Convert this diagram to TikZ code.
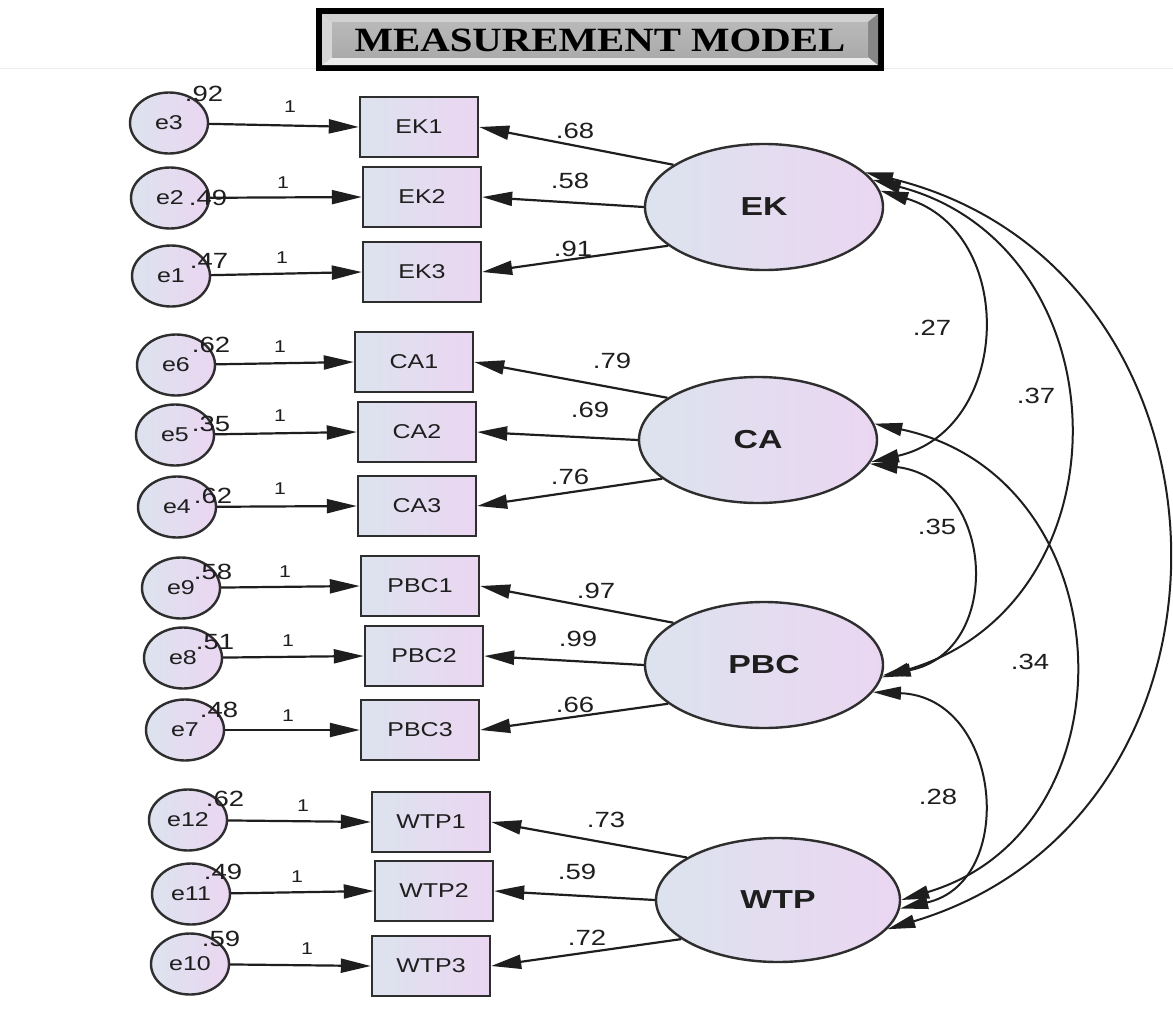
\documentclass[tikz,border=0pt]{standalone}
\usepackage{fontspec}
\setmainfont{Liberation Sans}
\newfontfamily\diagfont[FakeStretch=1.25]{Liberation Sans}
\newfontfamily\latfont[FakeStretch=1.3]{Liberation Sans}
\newfontfamily\headfont[FakeStretch=1.2]{Liberation Serif}
\usetikzlibrary{arrows.meta,shapes.geometric}

\definecolor{ink}{HTML}{1E1E1E}
\definecolor{edgegray}{HTML}{2E2E2E}
\definecolor{fillL}{HTML}{DCE3EE}
\definecolor{fillR}{HTML}{EBD6F1}

\tikzset{
  shaded/.style={draw=edgegray, line width=2.4pt, left color=fillL, right color=fillR, text=ink, inner sep=0pt},
  obs/.style={shaded, rectangle, minimum width=118pt, minimum height=60pt,
    font=\diagfont\fontsize{20}{20}\selectfont},
  err/.style={shaded, ellipse, minimum width=78pt, minimum height=61pt,
    font=\diagfont\fontsize{20}{20}\selectfont},
  lat/.style={shaded, ellipse, minimum width=238pt, minimum height=126pt,
    font=\latfont\bfseries\fontsize{26}{26}\selectfont},
  regpath/.style={draw=ink, line width=2.2pt, -{Triangle[length=30pt,width=14pt]}},
  covpath/.style={draw=ink, line width=2pt,
    {Triangle[length=28pt,width=13pt]}-{Triangle[length=28pt,width=13pt]}},
  coef/.style={font=\diagfont\fontsize{22}{22}\selectfont, text=ink, inner sep=0pt},
  unit/.style={font=\diagfont\fontsize{17}{17}\selectfont, text=ink, inner sep=0pt}
}

\begin{document}
\begin{tikzpicture}[x=1pt,y=-1pt]
\useasboundingbox (0,0) rectangle (1173,1017);
\fill[white] (0,0) rectangle (1173,1017);

% heading plate with bevelled frame
\draw[gray!15, line width=1pt] (0,68) -- (1173,68);
\fill[black] (316,8) rectangle (884,71);
\fill[gray!60] (322,14) rectangle (878,65);
\fill[gray!36] (322,14) -- (878,14) -- (868,22) -- (332,22) -- cycle;
\fill[gray!16] (322,65) -- (878,65) -- (868,57) -- (332,57) -- cycle;
\fill[gray!32] (322,14) -- (332,22) -- (332,57) -- (322,65) -- cycle;
\fill[gray!95] (878,14) -- (868,22) -- (868,57) -- (878,65) -- cycle;
\shade[top color=gray!55, bottom color=gray!66] (332,22) rectangle (868,57);
\node[font=\headfont\bfseries\fontsize{34}{34}\selectfont, text=black, inner sep=0pt]
  (title) at (600,40) {MEASUREMENT MODEL};

% error terms
\node[err] (e3)  at (169,123) {e3};
\node[err] (e2)  at (170,198) {e2};
\node[err] (e1)  at (171,276) {e1};
\node[err] (e6)  at (176,365) {e6};
\node[err] (e5)  at (175,435) {e5};
\node[err] (e4)  at (177,507) {e4};
\node[err] (e9)  at (181,588) {e9};
\node[err] (e8)  at (183,658) {e8};
\node[err] (e7)  at (185,730) {e7};
\node[err] (e12) at (188,820) {e12};
\node[err] (e11) at (191,894) {e11};
\node[err] (e10) at (190,964) {e10};

% observed indicators
\node[obs] (EK1)  at (419,127) {EK1};
\node[obs] (EK2)  at (422,197) {EK2};
\node[obs] (EK3)  at (422,272) {EK3};
\node[obs] (CA1)  at (414,362) {CA1};
\node[obs] (CA2)  at (417,432) {CA2};
\node[obs] (CA3)  at (417,506) {CA3};
\node[obs] (PBC1) at (420,586) {PBC1};
\node[obs] (PBC2) at (424,656) {PBC2};
\node[obs] (PBC3) at (420,730) {PBC3};
\node[obs] (WTP1) at (431,822) {WTP1};
\node[obs] (WTP2) at (434,891) {WTP2};
\node[obs] (WTP3) at (431,966) {WTP3};

% latent constructs
\node[lat] (EK)  at (764,207) {EK};
\node[lat] (CA)  at (758,440) {CA};
\node[lat] (PBC) at (764,665) {PBC};
\node[lat, minimum width=244pt, minimum height=124pt] (WTP) at (778,900) {WTP};

% error paths (fixed at 1)
\foreach \e/\v in {e3/EK1,e2/EK2,e1/EK3,e6/CA1,e5/CA2,e4/CA3,e9/PBC1,e8/PBC2,e7/PBC3,e12/WTP1,e11/WTP2,e10/WTP3}
  \draw[regpath] (\e) -- (\v.west);

% factor loadings
\foreach \f/\a/\b/\c in {EK/EK1/EK2/EK3, CA/CA1/CA2/CA3, PBC/PBC1/PBC2/PBC3, WTP/WTP1/WTP2/WTP3}{
  \draw[regpath] (\f.155) -- (\a.east);
  \draw[regpath] (\f.180) -- (\b.east);
  \draw[regpath] (\f.202) -- (\c.east);
}

% covariances between constructs
\draw[covpath] (EK.8)   .. controls (1018,232) and (1012,430) .. (CA.-11);
\draw[covpath] (EK.14)  .. controls (1125,246) and (1133,602) .. (PBC.-6);
\draw[covpath] (EK.19)  .. controls (1253,267) and (1268,815) .. (WTP.-15);
\draw[covpath] (CA.-12) .. controls (996,479)  and (1004,652) .. (PBC.-5);
\draw[covpath] (CA.8)   .. controls (1126,477) and (1139,829) .. (WTP.0);
\draw[covpath] (PBC.-14) .. controls (1002,697) and (1018,882) .. (WTP.-4);

% unit weights
\foreach \x/\y [count=\i] in {290/107,283/183,282/258,280/347,280/416,280/489,285/572,288/641,288/716,303/806,297/877,307/949}
  \node[unit] (one\i) at (\x,\y) {1};

% error variances
\node[coef] (v3)  at (204,94)  {.92};
\node[coef] (v2)  at (208,198) {.49};
\node[coef] (v1)  at (209,261) {.47};
\node[coef] (v6)  at (211,345) {.62};
\node[coef] (v5)  at (211,424) {.35};
\node[coef] (v4)  at (213,496) {.62};
\node[coef] (v9)  at (213,572) {.58};
\node[coef] (v8)  at (215,642) {.51};
\node[coef] (v7)  at (219,710) {.48};
\node[coef] (v12) at (225,799) {.62};
\node[coef] (v11) at (223,872) {.49};
\node[coef] (v10) at (221,939) {.59};

% loading estimates
\node[coef] (l1)  at (575,131) {.68};
\node[coef] (l2)  at (570,181) {.58};
\node[coef] (l3)  at (573,249) {.91};
\node[coef] (l4)  at (612,361) {.79};
\node[coef] (l5)  at (590,410) {.69};
\node[coef] (l6)  at (570,477) {.76};
\node[coef] (l7)  at (596,591) {.97};
\node[coef] (l8)  at (578,639) {.99};
\node[coef] (l9)  at (575,705) {.66};
\node[coef] (l10) at (606,820) {.73};
\node[coef] (l11) at (577,872) {.59};
\node[coef] (l12) at (587,938) {.72};

% correlation estimates
\node[coef] (r1) at (932,328)  {.27};
\node[coef] (r2) at (1036,396) {.37};
\node[coef] (r3) at (937,527)  {.35};
\node[coef] (r4) at (1030,662) {.34};
\node[coef] (r5) at (938,797)  {.28};
\end{tikzpicture}
\end{document}
